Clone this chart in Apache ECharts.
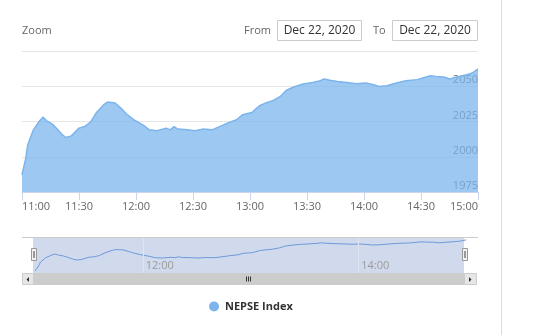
<!DOCTYPE html>
<html>
<head>
<meta charset="utf-8">
<script src="https://cdn.jsdelivr.net/npm/echarts@6/dist/echarts.min.js"></script>
<style>
html,body{margin:0;padding:0;background:#fff;}
#chart{width:534px;height:335px;}
</style>
</head>
<body>
<div id="chart"></div>
<script>
const seriesName = 'NEPSE Index';
const times = ['11:00','11:02','11:03','11:06','11:09','11:11','11:13','11:16','11:18','11:21','11:23','11:26','11:30','11:33','11:36','11:39','11:43','11:45','11:49','11:52','11:55','11:59','12:04','12:07','12:11','12:16','12:18','12:20','12:22','12:27','12:31','12:35','12:40','12:44','12:49','12:53','12:56','13:01','13:03','13:05','13:09','13:12','13:16','13:19','13:23','13:28','13:33','13:37','13:39','13:42','13:46','13:51','13:56','14:01','14:05','14:08','14:12','14:17','14:22','14:28','14:31','14:35','14:38','14:42','14:45','14:49','14:54','14:57','15:00'];
const values = [1987.1,1999,2008.4,2019.1,2025,2028.1,2025.5,2023.2,2020.3,2016,2013.6,2014.8,2020.3,2021.4,2024.6,2031,2036.9,2038.8,2038.1,2034.5,2030.3,2026.2,2022.2,2019.1,2018.4,2020.3,2019.1,2021.4,2019.6,2019.1,2018.4,2019.6,2019.1,2021.4,2024.3,2026.2,2029.8,2031.4,2033.8,2036.2,2038.5,2039.7,2042.8,2047,2049.5,2051.6,2052.7,2053.9,2055.2,2054.2,2053.4,2052.7,2051.8,2052.3,2051.1,2049.9,2050.4,2052.3,2053.9,2054.7,2055.9,2057.5,2057,2056.6,2055.2,2056.6,2058.2,2059.4,2062.3];
const xStart = '11:00', xEnd = '15:00';
const navLabelTimes = ['12:00','14:00'];
const yMin = 1975, yMax = 2075, yStep = 25;
const dateFrom = 'Dec 22, 2020', dateTo = 'Dec 22, 2020';

function toMin(t){ const p = t.split(':').map(Number); return p[0]*60 + p[1]; }
function fmt(v){ return Math.floor(v/60) + ':' + String(Math.round(v % 60)).padStart(2,'0'); }
const data = times.map((t,i)=>[toMin(t), values[i]]);
const navMin = Math.min(...values) - 5, navMax = Math.max(...values) + 7;

const FONT = '"Open Sans", sans-serif';
const chart = echarts.init(document.getElementById('chart'));
chart.setOption({
  animation:false,
  textStyle:{fontFamily:FONT},
  grid:[
    {left:22, right:56, top:51, height:141},
    {left:35, right:68, top:237, height:36}
  ],
  xAxis:[
    {gridIndex:0, type:'value', min:toMin(xStart), max:toMin(xEnd), interval:30,
     axisLine:{lineStyle:{color:'#ccd6eb'}},
     axisTick:{length:8, lineStyle:{color:'#ccd6eb'}},
     splitLine:{show:false},
     axisLabel:{formatter:fmt, color:'#666', fontSize:11, margin:9, alignMinLabel:'left', alignMaxLabel:'right', hideOverlap:false, showMinLabel:true, showMaxLabel:true}},
    {gridIndex:1, type:'value', min:toMin(xStart), max:toMin(xEnd),
     axisLine:{show:false}, axisTick:{show:false}, splitLine:{show:false},
     axisLabel:{inside:true, customValues:navLabelTimes.map(toMin), formatter:fmt, color:'#999', fontSize:11, align:'left', padding:[0,0,0,3], margin:2}}
  ],
  yAxis:[
    {gridIndex:0, type:'value', position:'right', min:yMin, max:yMax, interval:yStep,
     axisLine:{show:false}, axisTick:{show:false},
     splitLine:{lineStyle:{color:'#e6e6e6'}},
     axisLabel:{inside:true, margin:0, verticalAlign:'bottom', lineHeight:12, color:'#666', fontSize:11,
       formatter:v => v === yMax ? '' : String(v)}},
    {gridIndex:1, type:'value', min:navMin, max:navMax, show:false}
  ],
  legend:{data:[seriesName], left:209, top:301, padding:0, icon:'circle', itemWidth:10, itemHeight:10,
    textStyle:{fontWeight:'bold', fontSize:11, color:'#333', fontFamily:FONT, padding:[0,0,0,1]}},
  series:[
    {name:seriesName, type:'line', xAxisIndex:0, yAxisIndex:0, data:data, showSymbol:false,
     lineStyle:{color:'#7cb5ec', width:1.5}, itemStyle:{color:'#7cb5ec'},
     areaStyle:{color:'#7cb5ec', opacity:0.75, origin:'start'}},
    {name:'navigator', type:'line', xAxisIndex:1, yAxisIndex:1, data:data, showSymbol:false,
     lineStyle:{color:'#6d99d8', width:1}, itemStyle:{color:'#6d99d8'},
     markLine:{silent:true, symbol:'none', label:{show:false},
       lineStyle:{color:'#dfe4f0', width:1, type:'solid'},
       data:navLabelTimes.map(t=>({xAxis:toMin(t)}))}}
  ],
  graphic:[
    {type:'text', x:22, y:30.5, style:{text:'Zoom', fill:'#666', font:'11px '+FONT, textVerticalAlign:'middle'}},
    {type:'text', x:244, y:30.5, style:{text:'From', fill:'#666', font:'11px '+FONT, textVerticalAlign:'middle'}},
    {type:'rect', shape:{x:277.5, y:20.5, width:84, height:20}, style:{fill:'#fff', stroke:'#cccccc', lineWidth:1}},
    {type:'text', x:319.5, y:30.5, style:{text:dateFrom, fill:'#333', font:'12px '+FONT, textAlign:'center', textVerticalAlign:'middle'}},
    {type:'text', x:373, y:30.5, style:{text:'To', fill:'#666', font:'11px '+FONT, textVerticalAlign:'middle'}},
    {type:'rect', shape:{x:392.5, y:20.5, width:85, height:20}, style:{fill:'#fff', stroke:'#cccccc', lineWidth:1}},
    {type:'text', x:435, y:30.5, style:{text:dateTo, fill:'#333', font:'12px '+FONT, textAlign:'center', textVerticalAlign:'middle'}},
    {type:'line', shape:{x1:501.5, y1:0, x2:501.5, y2:335}, style:{stroke:'#dcdcdc', lineWidth:1}},
    {type:'rect', z:0, shape:{x:33, y:237.5, width:431, height:35.5}, style:{fill:'rgba(102,133,194,0.3)'}},
    {type:'line', z:10, shape:{x1:22, y1:237.5, x2:478, y2:237.5}, style:{stroke:'#cccccc', lineWidth:1}},
    {type:'rect', z:10, shape:{x:22, y:273, width:455, height:12}, style:{fill:'#f2f2f2'}},
    {type:'rect', z:10, shape:{x:33, y:273, width:431, height:12}, style:{fill:'#cccccc'}},
    {type:'rect', z:10, shape:{x:22.5, y:273.5, width:11, height:11}, style:{fill:'#e6e6e6', stroke:'#cccccc', lineWidth:1}},
    {type:'polygon', z:11, shape:{points:[[29,277],[29,282],[26.5,279.5]]}, style:{fill:'#333'}},
    {type:'rect', z:10, shape:{x:464.5, y:273.5, width:12, height:11}, style:{fill:'#e6e6e6', stroke:'#cccccc', lineWidth:1}},
    {type:'polygon', z:11, shape:{points:[[469,277],[469,282],[471.5,279.5]]}, style:{fill:'#333'}},
    {type:'line', z:11, shape:{x1:246.5, y1:276.5, x2:246.5, y2:281.5}, style:{stroke:'#333', lineWidth:1}},
    {type:'line', z:11, shape:{x1:248.5, y1:276.5, x2:248.5, y2:281.5}, style:{stroke:'#333', lineWidth:1}},
    {type:'line', z:11, shape:{x1:250.5, y1:276.5, x2:250.5, y2:281.5}, style:{stroke:'#333', lineWidth:1}},
    {type:'rect', z:12, shape:{x:31.5, y:248.5, width:5, height:12}, style:{fill:'#f2f2f2', stroke:'#999', lineWidth:1}},
    {type:'line', z:13, shape:{x1:33.5, y1:251, x2:33.5, y2:258}, style:{stroke:'#999', lineWidth:1}},
    {type:'line', z:13, shape:{x1:34.5, y1:251, x2:34.5, y2:258}, style:{stroke:'#999', lineWidth:1}},
    {type:'rect', z:12, shape:{x:462.5, y:248.5, width:5, height:12}, style:{fill:'#f2f2f2', stroke:'#999', lineWidth:1}},
    {type:'line', z:13, shape:{x1:464.5, y1:251, x2:464.5, y2:258}, style:{stroke:'#999', lineWidth:1}},
    {type:'line', z:13, shape:{x1:465.5, y1:251, x2:465.5, y2:258}, style:{stroke:'#999', lineWidth:1}}
  ]
});
</script>
</body>
</html>
